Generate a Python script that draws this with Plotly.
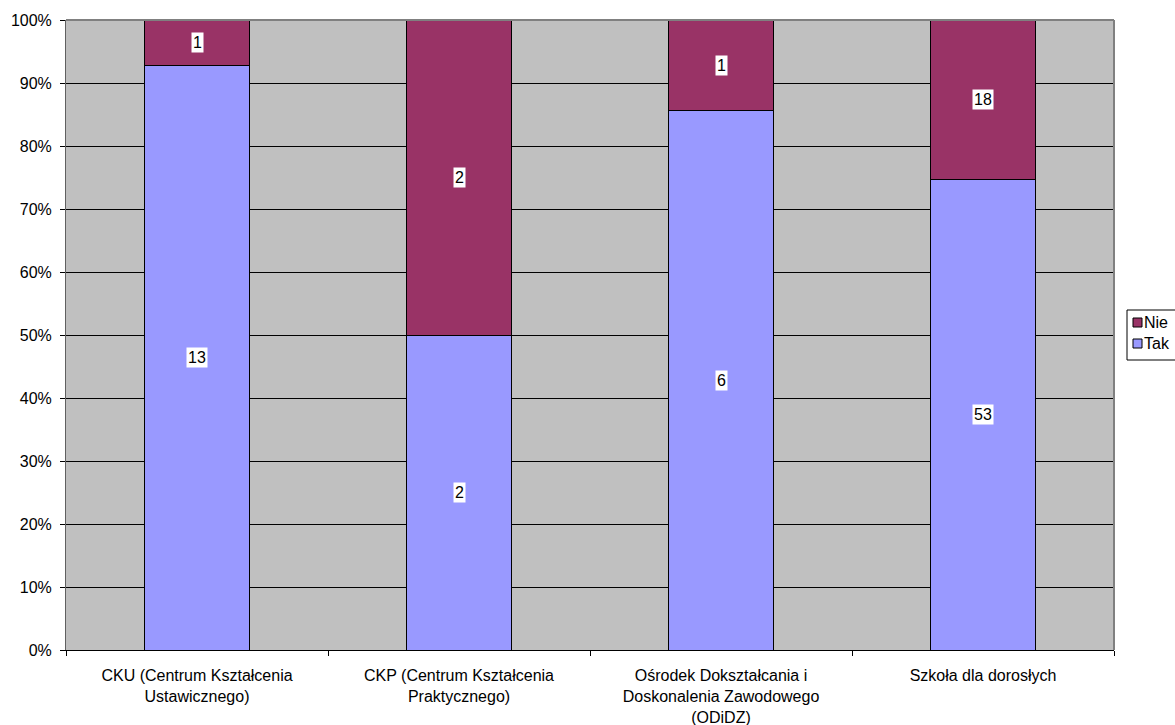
import plotly.graph_objects as go

categories = [
    "CKU (Centrum Kształcenia<br>Ustawicznego)",
    "CKP (Centrum Kształcenia<br>Praktycznego)",
    "Ośrodek Dokształcania i<br>Doskonalenia Zawodowego<br>(ODiDZ)",
    "Szkoła dla dorosłych",
]
tak = [13, 2, 6, 53]
nie = [1, 2, 1, 18]
series_names = ["Tak", "Nie"]
series_colors = ["#9999FF", "#993366"]
y_ticks = list(range(0, 101, 10))
y_tick_labels = [f"{v}%" for v in y_ticks]

FONT = "Liberation Sans, Arial, sans-serif"
FS = 16

W, H = 1175, 725
ML, MR, MT, MB = 66, 61, 20, 75
PW, PH = W - ML - MR, H - MT - MB


def px_x(px):
    return (px - ML) / PW


def px_y(py):
    return (H - MB - py) / PH


fig = go.Figure()
for name, vals, col in zip(series_names, [tak, nie], series_colors):
    fig.add_trace(go.Bar(
        name=name, x=categories, y=vals,
        marker=dict(color=col, line=dict(color="#000000", width=1)),
        hoverinfo="skip", showlegend=False,
    ))

annotations = []
for c, t, n in zip(categories, tak, nie):
    tot = t + n
    pt = t / tot * 100
    pn = n / tot * 100
    for val, mid in ((t, pt / 2), (n, pt + pn / 2)):
        annotations.append(dict(
            x=c, y=mid, xref="x", yref="y", text=str(val), showarrow=False,
            bgcolor="#FFFFFF", borderpad=1,
            font=dict(family=FONT, size=FS, color="#000000"),
        ))

shapes = [
    dict(type="line", xref="paper", yref="paper", x0=0, x1=1, y0=1, y1=1,
         line=dict(color="#808080", width=2)),
    dict(type="line", xref="paper", yref="paper", x0=1, x1=1, y0=0, y1=1,
         line=dict(color="#808080", width=2)),
    # legend box
    dict(type="rect", xref="paper", yref="paper",
         x0=px_x(1127), x1=px_x(1200), y0=px_y(360), y1=px_y(310),
         line=dict(color="#000000", width=1), fillcolor="#FFFFFF"),
]
# legend entries (reversed order: Nie on top)
legend_rows = [("Nie", "#993366", 322.5), ("Tak", "#9999FF", 343.5)]
for name, col, cy in legend_rows:
    shapes.append(dict(
        type="rect", xref="paper", yref="paper",
        x0=px_x(1133), x1=px_x(1142), y0=px_y(cy + 4.5), y1=px_y(cy - 4.5),
        line=dict(color="#000000", width=1), fillcolor=col,
    ))
    annotations.append(dict(
        x=px_x(1142), y=px_y(cy), xref="paper", yref="paper",
        xanchor="left", yanchor="middle", text=name, showarrow=False,
        font=dict(family=FONT, size=FS, color="#000000"),
    ))

fig.update_layout(
    barmode="stack", barnorm="percent", bargap=0.6,
    width=W, height=H,
    margin=dict(l=ML, r=MR, t=MT, b=MB, autoexpand=False),
    paper_bgcolor="#FFFFFF", plot_bgcolor="#C0C0C0",
    font=dict(family=FONT, size=FS, color="#000000"),
    annotations=annotations,
    shapes=shapes,
    showlegend=False,
)
fig.update_xaxes(
    type="category", tickson="boundaries", ticks="outside", ticklen=5,
    tickcolor="#000000", showline=True, linecolor="#000000", linewidth=1,
    showgrid=False, ticklabelstandoff=11,
    tickfont=dict(family=FONT, size=FS, color="#000000"),
)
fig.update_yaxes(
    range=[0, 100], tickvals=y_ticks, ticktext=y_tick_labels,
    ticks="outside", ticklen=5, tickcolor="#000000",
    showline=True, linecolor="#606060", linewidth=1,
    showgrid=True, gridcolor="#000000", gridwidth=1, zeroline=False,
    ticklabelstandoff=5,
    tickfont=dict(family=FONT, size=FS, color="#000000"),
)

fig.write_html(
    "out.html",
    config={"displayModeBar": False},
    post_script="document.body.style.margin='0';document.body.style.overflow='hidden';",
)
